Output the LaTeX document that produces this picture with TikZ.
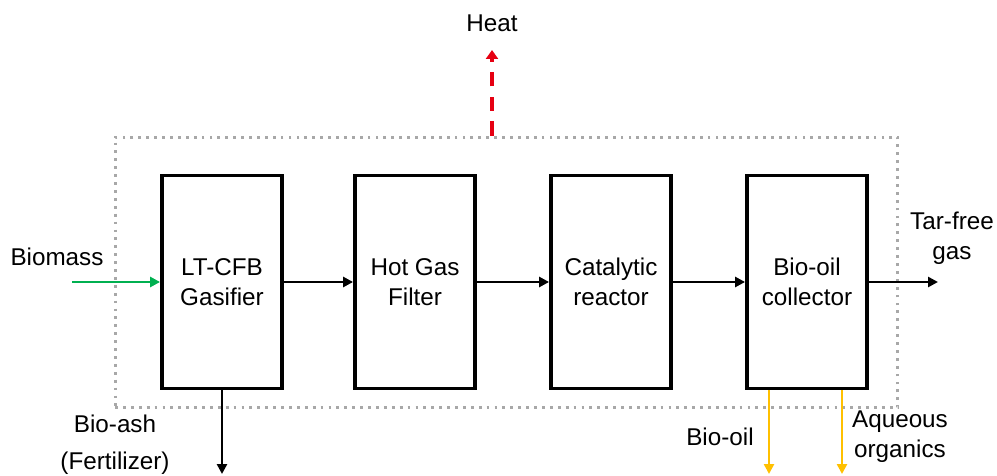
\documentclass[tikz,border=0pt]{standalone}
\usepackage{fontspec}
\setmainfont{Liberation Sans}
\usetikzlibrary{arrows.meta}
\definecolor{feedgreen}{RGB}{0,176,80}
\definecolor{oilyellow}{RGB}{255,192,0}
\definecolor{heatred}{RGB}{230,0,18}
\definecolor{bordergray}{RGB}{168,168,168}
\tikzset{
  flow/.style={-{Triangle[length=2mm,width=2mm]},line width=1.6pt},
  feed/.style={flow,draw=feedgreen},
  liquid/.style={flow,draw=oilyellow},
  heatflow/.style={-{Triangle[length=1.8mm,width=2.4mm]},line width=1.9pt,draw=heatred,
                   dash pattern=on 8pt off 6pt},
  unit/.style={draw=black,line width=2.2pt,minimum width=2.4cm,minimum height=4.26cm,
               inner sep=0pt,align=center,font=\fontsize{13.8}{17}\selectfont},
  boundary/.style={draw=bordergray,line width=1.7pt,dash pattern=on 1.6pt off 2.9pt,
                   minimum width=15.66cm,minimum height=5.42cm,inner sep=0pt},
  lab/.style={align=center,inner sep=0pt,font=\fontsize{13.8}{17}\selectfont},
}
\begin{document}
\begin{tikzpicture}[x=0.02cm,y=-0.02cm]
  \path[use as bounding box] (0,0) rectangle (997,476);
  \node[boundary] (SYS) at (506.5,272.5) {};

  \node[unit] (GAS) at (222,282) {LT-CFB\\Gasifier};
  \node[unit] (HGF) at (415,282) {Hot Gas\\Filter};
  \node[unit] (CAT) at (611,282) {Catalytic\\reactor};
  \node[unit] (COL) at (807,282) {Bio-oil\\collector};
  \draw[flow] (GAS.east)--(HGF.west);
  \draw[flow] (HGF.east)--(CAT.west);
  \draw[flow] (CAT.east)--(COL.west);

  \coordinate (FEEDIN) at (72,282);
  \coordinate (GASOUT) at (938,282);
  \coordinate (ASHEND) at (222,474);
  \coordinate (OILEND) at (769,474);
  \coordinate (AQEND) at (842,474);
  \coordinate (HEATTOP) at (492,50);
  \draw[feed] (FEEDIN)--(GAS.west);
  \draw[flow] (COL.east)--(GASOUT);
  \draw[flow] (GAS.south)--(ASHEND);
  \draw[liquid] (COL.south -| OILEND)--(OILEND);
  \draw[liquid] (COL.south -| AQEND)--(AQEND);
  \draw[heatflow] (SYS.north -| HEATTOP)--(HEATTOP);

  \node[lab] (BIOMASS) at (57,257) {Biomass};
  \node[lab] (TARFREE) at (952,238) {Tar-free\\gas};
  \node[lab] (BIOASH) at (115,445) {Bio-ash\\[4pt](Fertilizer)};
  \node[lab] (BIOOIL) at (720,437) {Bio-oil};
  \node[lab] (AQUEOUS) at (900,437) {Aqueous\\organics};
  \node[lab] (HEAT) at (492,23) {Heat};
\end{tikzpicture}
\end{document}
